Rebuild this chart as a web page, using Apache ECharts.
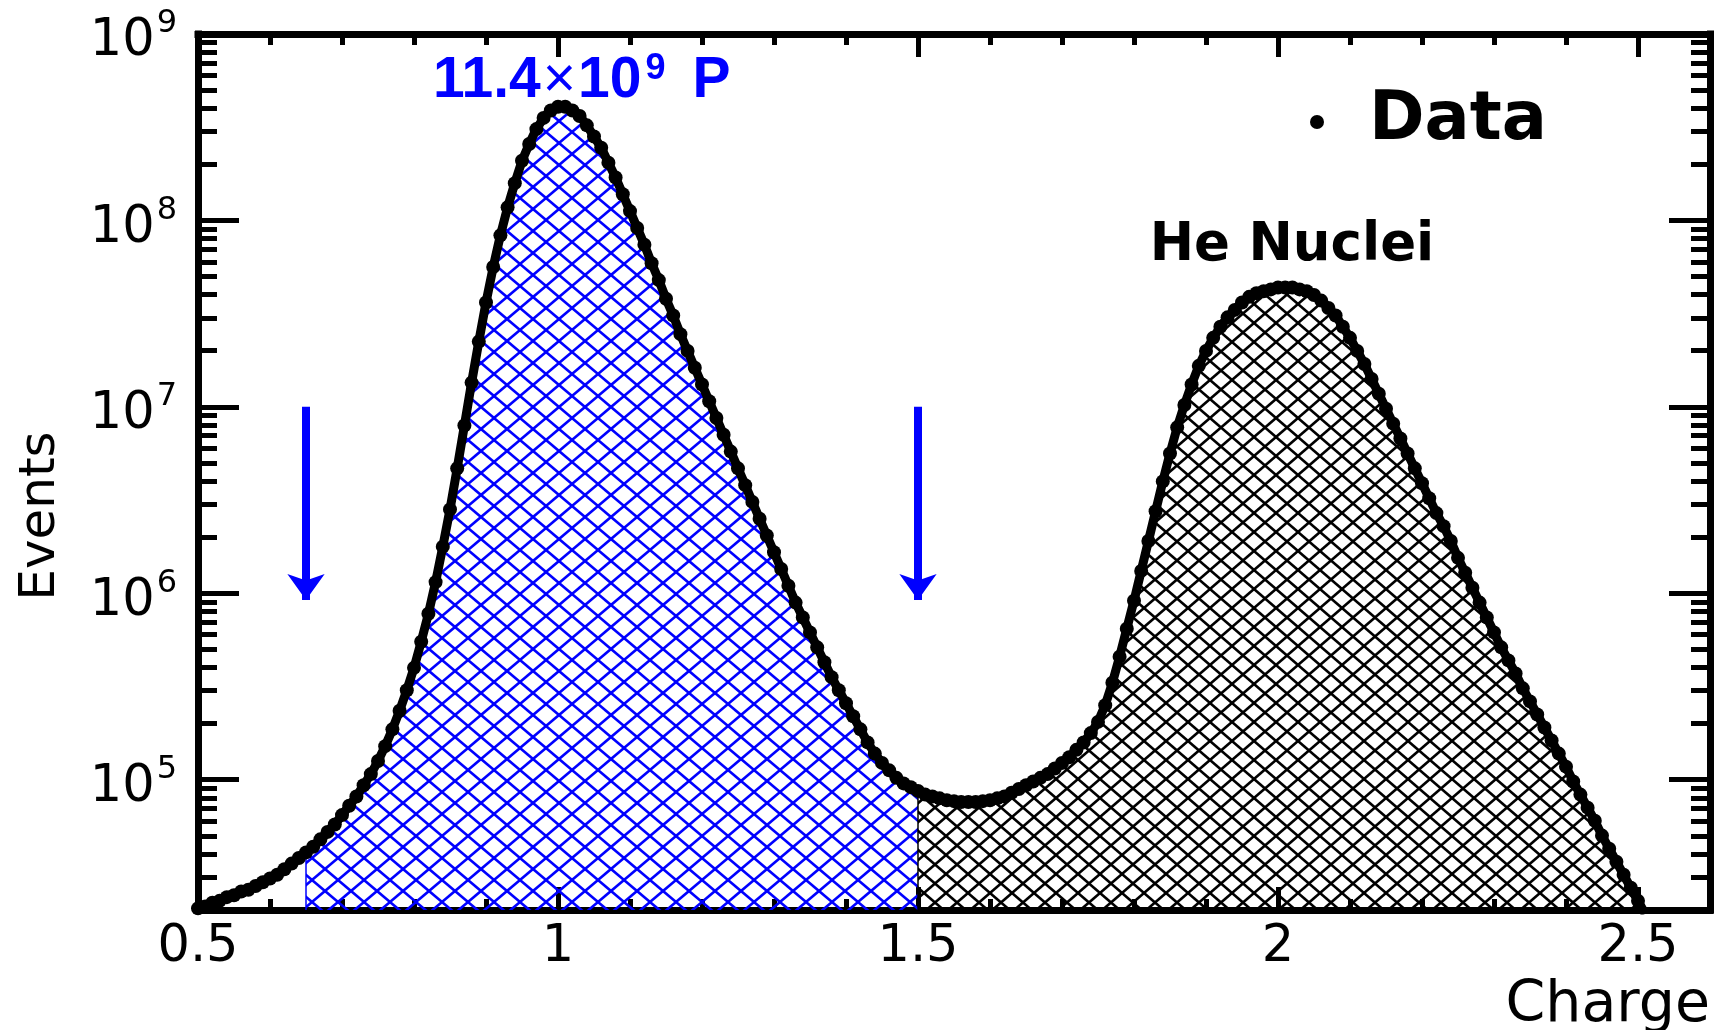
<!DOCTYPE html>
<html><head><meta charset="utf-8">
<script src="https://cdn.jsdelivr.net/npm/echarts@6/dist/echarts.min.js"></script>
<style>html,body{margin:0;padding:0;background:#fff}#c{width:1729px;height:1030px}</style>
</head><body><div id="c"></div>
<script>
// ---- data ----
const charges = [
 0.50,0.51,0.52,0.53,0.54,0.55,0.56,0.57,0.58,0.59,
 0.60,0.61,0.62,0.63,0.64,0.65,0.66,0.67,0.68,0.69,
 0.70,0.71,0.72,0.73,0.74,0.75,0.76,0.77,0.78,0.79,
 0.80,0.81,0.82,0.83,0.84,0.85,0.86,0.87,0.88,0.89,
 0.90,0.91,0.92,0.93,0.94,0.95,0.96,0.97,0.98,0.99,
 1.00,1.01,1.02,1.03,1.04,1.05,1.06,1.07,1.08,1.09,
 1.10,1.11,1.12,1.13,1.14,1.15,1.16,1.17,1.18,1.19,
 1.20,1.21,1.22,1.23,1.24,1.25,1.26,1.27,1.28,1.29,
 1.30,1.31,1.32,1.33,1.34,1.35,1.36,1.37,1.38,1.39,
 1.40,1.41,1.42,1.43,1.44,1.45,1.46,1.47,1.48,1.49,
 1.50,1.51,1.52,1.53,1.54,1.55,1.56,1.57,1.58,1.59,
 1.60,1.61,1.62,1.63,1.64,1.65,1.66,1.67,1.68,1.69,
 1.70,1.71,1.72,1.73,1.74,1.75,1.76,1.77,1.78,1.79,
 1.80,1.81,1.82,1.83,1.84,1.85,1.86,1.87,1.88,1.89,
 1.90,1.91,1.92,1.93,1.94,1.95,1.96,1.97,1.98,1.99,
 2.00,2.01,2.02,2.03,2.04,2.05,2.06,2.07,2.08,2.09,
 2.10,2.11,2.12,2.13,2.14,2.15,2.16,2.17,2.18,2.19,
 2.20,2.21,2.22,2.23,2.24,2.25,2.26,2.27,2.28,2.29,
 2.30,2.31,2.32,2.33,2.34,2.35,2.36,2.37,2.38,2.39,
 2.40,2.41,2.42,2.43,2.44,2.45,2.46,2.47,2.48,2.49,
 2.50,2.51
];
// log10(Events) for each charge bin
const log10Events = [
 4.31,4.32,4.34,4.35,4.37,4.38,4.40,4.41,4.43,4.45,
 4.47,4.49,4.52,4.55,4.58,4.61,4.64,4.68,4.72,4.76,
 4.81,4.86,4.91,4.97,5.03,5.10,5.18,5.27,5.37,5.48,
 5.60,5.74,5.89,6.06,6.25,6.45,6.67,6.90,7.13,7.35,
 7.56,7.75,7.92,8.07,8.20,8.32,8.41,8.49,8.55,8.59,
 8.61,8.61,8.59,8.56,8.51,8.45,8.39,8.31,8.23,8.14,
 8.05,7.96,7.87,7.77,7.68,7.58,7.49,7.39,7.30,7.21,
 7.12,7.03,6.94,6.85,6.76,6.67,6.58,6.49,6.40,6.31,
 6.22,6.13,6.04,5.95,5.87,5.79,5.71,5.63,5.55,5.48,
 5.41,5.34,5.27,5.20,5.14,5.09,5.05,5.01,4.98,4.96,
 4.94,4.92,4.91,4.90,4.89,4.885,4.88,4.88,4.88,4.885,
 4.89,4.90,4.91,4.93,4.95,4.97,4.99,5.01,5.03,5.06,
 5.09,5.12,5.16,5.20,5.25,5.31,5.40,5.52,5.66,5.81,
 5.96,6.12,6.28,6.44,6.60,6.75,6.89,7.01,7.12,7.22,
 7.30,7.37,7.43,7.48,7.52,7.56,7.59,7.61,7.62,7.63,
 7.64,7.64,7.64,7.63,7.62,7.60,7.57,7.53,7.49,7.43,
 7.37,7.30,7.23,7.15,7.07,6.99,6.91,6.83,6.75,6.67,
 6.59,6.51,6.43,6.36,6.28,6.19,6.11,6.03,5.95,5.87,
 5.79,5.71,5.64,5.57,5.49,5.42,5.35,5.28,5.21,5.14,
 5.07,4.99,4.92,4.85,4.78,4.70,4.63,4.56,4.49,4.42,
 4.35,4.28
];
const protonRange = [0.65, 1.50];   // blue hatched selection
const heliumRange = [1.50, 2.51];   // black hatched He region
const cutCharges = [0.65, 1.50];    // arrow positions
const arrowSpan = [1e7, 9.2e5];     // arrow from / to (Events)
const xRange = [0.5, 2.6];
const yRange = [2e4, 1e9];
const xMajorTicks = [0.5, 1, 1.5, 2, 2.5];
const xMinorTicks = [0.6,0.7,0.8,0.9,1.1,1.2,1.3,1.4,1.6,1.7,1.8,1.9,2.1,2.2,2.3,2.4,2.6];
const yMajorTicks = [1e5, 1e6, 1e7, 1e8, 1e9];
const yMinorTicks = [3e4,4e4,5e4,6e4,7e4,8e4,9e4,
  2e5,3e5,4e5,5e5,6e5,7e5,8e5,9e5,
  2e6,3e6,4e6,5e6,6e6,7e6,8e6,9e6,
  2e7,3e7,4e7,5e7,6e7,7e7,8e7,9e7,
  2e8,3e8,4e8,5e8,6e8,7e8,8e8,9e8];

// ---- build ----
const events = log10Events.map(l => Math.pow(10, l));
const dataPts = charges.map((c, i) => [c, events[i]]);
const inRange = (r) => dataPts.filter(p => p[0] >= r[0] - 1e-9 && p[0] <= r[1] + 1e-9);
const valAt = (c) => dataPts.find(p => Math.abs(p[0] - c) < 1e-9)[1];

function hatch(color, w, h, lw) {
  const cv = document.createElement('canvas');
  cv.width = w; cv.height = h;
  const ctx = cv.getContext('2d');
  ctx.strokeStyle = color; ctx.lineWidth = lw;
  for (let k = -1; k <= 1; k++) {
    ctx.beginPath(); ctx.moveTo(k * w, 0); ctx.lineTo(k * w + w, h); ctx.stroke();
    ctx.beginPath(); ctx.moveTo(k * w, h); ctx.lineTo(k * w + w, 0); ctx.stroke();
  }
  return { image: cv, repeat: 'repeat' };
}

const FONT = 'DejaVu Sans';
const frameLine = { show: true, onZero: false, lineStyle: { color: '#000', width: 7, cap: 'square' } };
const noLine = { show: false, onZero: false };

function xAx(pos, ticks, len, main) {
  return {
    type: 'value', position: pos, min: xRange[0], max: xRange[1],
    axisLine: main ? frameLine : noLine,
    axisTick: { show: true, inside: true, length: len, customValues: ticks, lineStyle: { color: '#000', width: 5 } },
    axisLabel: (main && pos === 'bottom') ? {
      show: true, customValues: xMajorTicks, margin: 12,
      formatter: v => String(v), color: '#000', fontSize: 51, fontFamily: FONT
    } : { show: false },
    splitLine: { show: false }
  };
}
function yAx(pos, ticks, len, main) {
  return {
    type: 'log', logBase: 10, position: pos, min: yRange[0], max: yRange[1],
    axisLine: main ? frameLine : noLine,
    axisTick: { show: true, inside: true, length: len, customValues: ticks, lineStyle: { color: '#000', width: 5 } },
    axisLabel: (main && pos === 'left') ? {
      show: true, customValues: yMajorTicks, margin: 21,
      formatter: v => '{b|10}{s|' + Math.round(Math.log10(v)) + '}',
      rich: {
        b: { fontSize: 51, fontFamily: FONT, color: '#000', lineHeight: 52, padding: [16, 0, 0, 0] },
        s: { fontSize: 32, fontFamily: FONT, color: '#000', lineHeight: 38, verticalAlign: 'top', padding: [0, 0, 0, 2] }
      }
    } : { show: false },
    splitLine: { show: false }
  };
}

const xAxes = [xAx('bottom', xMajorTicks, 23, true), xAx('bottom', xMinorTicks, 11, false),
               xAx('top', xMajorTicks, 23, true), xAx('top', xMinorTicks, 11, false)];
xAxes[0].name = 'Charge';
xAxes[0].nameLocation = 'end';
xAxes[0].nameGap = 0;
xAxes[0].nameTextStyle = { fontSize: 57, fontFamily: FONT, color: '#000', align: 'right', verticalAlign: 'top', padding: [68, 0, 0, 0] };

const yAxes = [yAx('left', yMajorTicks, 41, true), yAx('left', yMinorTicks, 19, false),
               yAx('right', yMajorTicks, 41, true), yAx('right', yMinorTicks, 19, false)];
yAxes[0].name = 'Events';
yAxes[0].nameLocation = 'middle';
yAxes[0].nameGap = 157;
yAxes[0].nameTextStyle = { fontSize: 50, fontFamily: FONT, color: '#000', align: 'center', verticalAlign: 'middle', padding: [0, 88, 0, 0] };

const chart = echarts.init(document.getElementById('c'), null, { renderer: 'canvas' });
chart.setOption({
  animation: false,
  backgroundColor: '#fff',
  grid: { left: 198, right: 19, top: 34, bottom: 120, containLabel: false, outerBoundsMode: 'none' },
  xAxis: xAxes,
  yAxis: yAxes,
  legend: {
    data: ['Data'], left: 1305, top: 77, icon: 'circle', itemWidth: 14, itemHeight: 14,
    textStyle: { fontSize: 67, fontWeight: 'bold', fontFamily: FONT, color: '#000', padding: [0, 0, 0, 40], lineHeight: 80 }
  },
  graphic: [
    { type: 'text', left: 433, top: 51, z: 100, silent: true,
      style: { text: '{m|11.4}{x|×}{m|10}{s|9}{m|P}', rich: {
        m: { fontSize: 57, fontWeight: 'bold', fontFamily: 'Liberation Sans', fill: '#0000ff', lineHeight: 60 },
        x: { fontSize: 57, fontWeight: 'normal', fontFamily: 'Liberation Sans', fill: '#0000ff', lineHeight: 60, padding: [0, 2, 0, 2] },
        s: { fontSize: 36, fontWeight: 'bold', fontFamily: 'Liberation Sans', fill: '#0000ff', lineHeight: 16, verticalAlign: 'top', padding: [0, 27, 0, 4] } } } },
    { type: 'text', x: 1292, y: 246, z: 100, silent: true,
      style: { text: 'He Nuclei', fontSize: 53, fontWeight: 'bold', fontFamily: FONT, fill: '#000', align: 'center', verticalAlign: 'middle' } }
  ],
  series: [
    { name: 'P selection', type: 'line', data: inRange(protonRange), showSymbol: false, symbol: 'none',
      lineStyle: { width: 0 }, areaStyle: { origin: 'start', opacity: 1, color: hatch('#0000ff', 26, 22, 2.6) },
      z: 2, silent: true,
      markLine: { silent: true, symbol: ['none', 'arrow'], symbolSize: [28, 26], label: { show: false },
        lineStyle: { color: '#0000ff', width: 8, type: 'solid' },
        data: cutCharges.map(c => [{ coord: [c, arrowSpan[0]] }, { coord: [c, arrowSpan[1]] }]) } },
    { name: 'He region', type: 'line', data: inRange(heliumRange), showSymbol: false, symbol: 'none',
      lineStyle: { width: 0 }, areaStyle: { origin: 'start', opacity: 1, color: hatch('#000000', 22, 19, 2.6) },
      z: 2, silent: true },
    { name: 'P edge', type: 'line', data: [[protonRange[0], yRange[0]], [protonRange[0], valAt(protonRange[0])]],
      symbol: 'none', lineStyle: { color: '#0000ff', width: 1.5 }, z: 3, silent: true },
    { name: 'He edge', type: 'line', data: [[heliumRange[0], yRange[0]], [heliumRange[0], valAt(heliumRange[0])]],
      symbol: 'none', lineStyle: { color: '#000', width: 1.5 }, z: 3, silent: true },
    { name: 'Data', type: 'line', data: dataPts, symbol: 'circle', symbolSize: 14, showAllSymbol: true,
      itemStyle: { color: '#000' }, lineStyle: { color: '#000', width: 9 }, z: 5, silent: true }
  ]
});
</script></body></html>
